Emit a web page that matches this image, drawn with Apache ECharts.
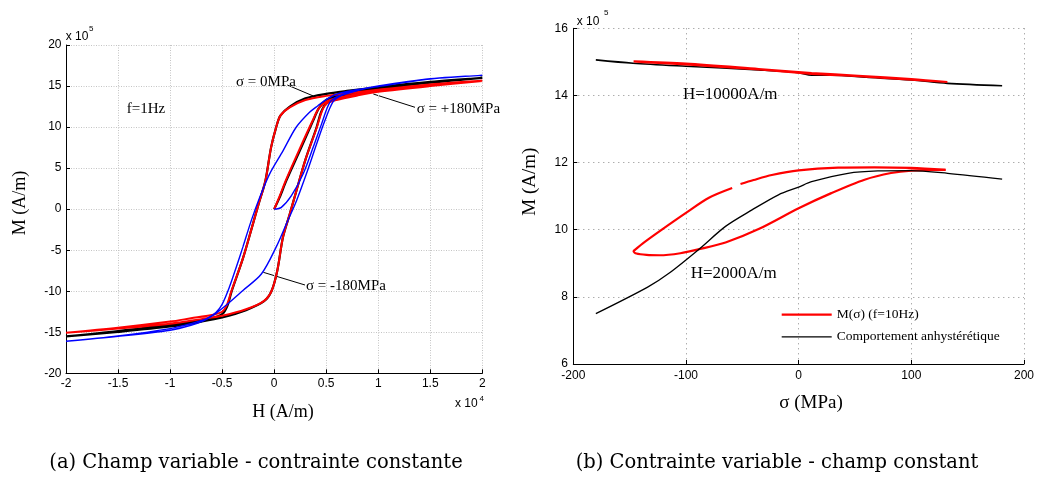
<!DOCTYPE html>
<html><head><meta charset="utf-8">
<script src="https://cdn.jsdelivr.net/npm/echarts@6/dist/echarts.min.js"></script>
<style>html,body{margin:0;padding:0;background:#fff}#c{width:1037px;height:493px}</style>
</head><body><div id="c"></div>
<script>
// ---------- Left panel: H (x1e4 A/m) vs M (x1e5 A/m) ----------
const hTicks = [-2, 2, 0.5];
const mTicks = [-20, 20, 5];
// sigma = 0 MPa (black)
const s0Init = [[0,0],[0.053,1.44],[0.117,3.47],[0.246,7.1],[0.374,10.76],[0.43,12.3],[0.5,13.3],[0.6,13.8],[0.8,14.3],[1,14.7],[1.5,15.45],[2,16.0]];
const s0Desc = [[1.5,15.5],[1,14.85],[0.7,14.4],[0.5,14.05],[0.3,13.5],[0.15,12.5],[0.06,11.4],[0.02,10.0],[-0.03,7.5],[-0.085,3.4],[-0.15,0.6],[-0.214,-2.25],[-0.3,-6],[-0.407,-9.95],[-0.45,-11.8],[-0.5,-12.8],[-0.6,-13.3],[-0.8,-13.7],[-1,-14.05],[-1.5,-14.85],[-2,-15.5]];
const s0Asc = [[-1.5,-14.95],[-1,-14.3],[-0.7,-13.7],[-0.5,-13.2],[-0.27,-12.3],[-0.1,-11.25],[-0.026,-10.0],[0.03,-7.5],[0.085,-3.4],[0.15,-0.6],[0.214,2.25],[0.3,6.0],[0.407,9.95],[0.45,11.8],[0.5,12.9],[0.6,13.6],[0.8,14.2],[1,14.65],[1.5,15.4],[2,16.0]];
// sigma = +180 MPa (red)
const sPInit = [[0,0],[0.05,1.5],[0.115,3.6],[0.24,7.2],[0.37,10.8],[0.43,12.3],[0.5,13.1],[0.6,13.55],[0.8,14.0],[1,14.4],[1.5,15.1],[2,15.65]];
const sPDesc = [[1.5,15.2],[1,14.55],[0.7,14.1],[0.5,13.8],[0.3,13.3],[0.15,12.4],[0.06,11.4],[0.02,10.0],[-0.03,7.5],[-0.085,3.4],[-0.15,0.6],[-0.214,-2.25],[-0.3,-6],[-0.41,-9.95],[-0.455,-11.7],[-0.5,-12.5],[-0.6,-12.9],[-0.8,-13.3],[-1,-13.7],[-1.5,-14.45],[-2,-15.05]];
const sPAsc = [[-1.5,-14.55],[-1,-13.95],[-0.7,-13.4],[-0.5,-13.0],[-0.27,-12.2],[-0.1,-11.2],[-0.026,-10.0],[0.03,-7.5],[0.085,-3.4],[0.15,-0.6],[0.214,2.25],[0.3,6.0],[0.41,9.95],[0.455,11.8],[0.5,12.8],[0.6,13.3],[0.8,13.85],[1,14.3],[1.5,15.0],[2,15.6]];
// sigma = -180 MPa (blue)
const sMInit = [[0,0],[0.069,0.22],[0.166,1.64],[0.278,4.28],[0.374,7.5],[0.455,10.36],[0.535,13.0],[0.62,13.8],[0.8,14.5],[1,15.0],[1.5,15.9],[2,16.3]];
const sMDesc = [[1.5,15.85],[1,14.95],[0.75,14.45],[0.6,14.0],[0.5,13.35],[0.42,12.6],[0.34,11.8],[0.21,9.95],[0.085,7.1],[-0.043,4.3],[-0.14,1.4],[-0.22,-1.4],[-0.3,-4.6],[-0.365,-7.1],[-0.43,-9.5],[-0.5,-11.6],[-0.56,-12.6],[-0.65,-13.35],[-0.8,-13.95],[-1,-14.55],[-1.5,-15.45],[-2,-16.1]];
const sMAsc = [[-1.5,-15.5],[-1,-14.75],[-0.8,-14.15],[-0.68,-13.6],[-0.58,-12.9],[-0.48,-11.9],[-0.3,-9.9],[-0.123,-7.9],[0.02,-4.6],[0.117,-1.8],[0.214,1.0],[0.31,4.3],[0.407,7.9],[0.487,10.76],[0.567,13.1],[0.65,13.85],[0.8,14.45],[1,15.0],[1.5,15.9],[2,16.3]];

// ---------- Right panel: sigma (MPa) vs M (x1e5 A/m) ----------
const sigTicks = [-200, 200, 100];
const m2Ticks = [6, 16, 2];
const h10kAnhyst = [[-180,15.06],[-147,14.96],[-100,14.87],[-35.5,14.76],[0,14.68],[11.5,14.6],[30,14.6],[60,14.54],[100,14.46],[132,14.36],[180.6,14.29]];
const h10kLoop = [[-146.5,15.02],[-100,14.95],[-35.5,14.79],[11.5,14.67],[52.8,14.59],[100,14.49],[132,14.4],[100,14.47],[52.8,14.57],[11.5,14.64],[-35.5,14.77],[-100,14.92],[-146.5,15.0]];
const h2kAnhyst = [[-180,7.5],[-134,8.29],[-114.8,8.71],[-88.4,9.42],[-64.9,10.1],[-41.4,10.59],[-17.9,11.04],[0,11.27],[11.5,11.43],[43.8,11.68],[70.3,11.75],[99.6,11.76],[132.2,11.68],[180.6,11.51]];
const h2kLoopA = [[130.4,11.78],[99.6,11.84],[67.3,11.86],[35,11.85],[0,11.77],[-23.8,11.63],[-40,11.48],[-51.6,11.36]];
const h2kLoopB = [[-59,11.24],[-79.6,10.95],[-100,10.5],[-123.6,9.95],[-138,9.6],[-144.5,9.42],[-146.5,9.36],[-144,9.29],[-135,9.25],[-123.6,9.24],[-105,9.3],[-88.4,9.42],[-64.9,9.62],[-35.5,10.02],[0,10.64],[29,11.09],[58.5,11.49],[82,11.69],[100,11.76],[130.4,11.78]];

const nameRed = 'M(σ) (f=10Hz)';
const nameBlack = 'Comportement anhystérétique';

const SANS = 'Liberation Sans';
const SERIF = 'Liberation Serif';

function axisCommon(ticks, gridIndex, labelMargin, gridStyle) {
  return {
    type: 'value', gridIndex: gridIndex,
    min: ticks[0], max: ticks[1], interval: ticks[2],
    axisLine: { show: true, onZero: false, lineStyle: { color: '#000', width: 1 } },
    axisTick: { show: true, inside: true, length: 4, lineStyle: { color: '#000' } },
    axisLabel: { color: '#000', fontFamily: SANS, fontSize: 12, margin: labelMargin },
    splitLine: { show: true, lineStyle: gridStyle }
  };
}
const gridL = { color: '#c4c4c4', width: 1, type: [1, 1.5] };
const gridR = { color: '#8a8a8a', width: 1, type: [1, 4] };

function line(name, data, color, width, xi, z) {
  return { name: name, type: 'line', xAxisIndex: xi, yAxisIndex: xi, data: data,
    symbol: 'none', smooth: 0.3, z: z || 2, silent: true,
    lineStyle: { color: color, width: width }, itemStyle: { color: color } };
}

function txt(x, y, text, size, family, align, rot) {
  return { type: 'text', x: x, y: y, rotation: rot || 0, silent: true,
    style: { text: text, fontSize: size, fontFamily: family, fill: '#000',
      align: align || 'left', verticalAlign: 'middle' } };
}
function seg(x1, y1, x2, y2) {
  return { type: 'line', silent: true, shape: { x1: x1, y1: y1, x2: x2, y2: y2 },
    style: { stroke: '#000', lineWidth: 1 } };
}
function legendItem(name, left, cy, h) {
  return { data: [name], left: left, top: cy - 8 - 5.5 + (8 - h / 2) * 0, padding: 0, icon: 'rect',
    itemWidth: 50, itemHeight: h, selectedMode: false,
    textStyle: { fontFamily: SERIF, fontSize: 13.5, color: '#000', padding: [0, 0, 0, 0] } };
}

const chart = echarts.init(document.getElementById('c'), null, { renderer: 'canvas' });
chart.setOption({
  animation: false,
  backgroundColor: '#fff',
  grid: [
    { left: 66, top: 45, width: 416.3, height: 328.3 },
    { left: 573.3, top: 28.3, width: 454, height: 335.7 }
  ],
  xAxis: [ axisCommon(hTicks, 0, 4, gridL), axisCommon(sigTicks, 1, 6, gridR) ],
  yAxis: [ axisCommon(mTicks, 0, 4.5, gridL), axisCommon(m2Ticks, 1, 5.5, gridR) ],
  legend: [
    legendItem(nameRed, 781.7, 314.3 + 6.8, 2.2),
    legendItem(nameBlack, 781.7, 336 + 7.3, 1.3)
  ],
  series: [
    line('σ = 0MPa', s0Init.concat(s0Desc, s0Asc), '#000', 2.2, 0, 2),
    line('σ = +180MPa', sPInit.concat(sPDesc, sPAsc), '#ff0000', 2, 0, 3),
    line('σ = -180MPa', sMInit.concat(sMDesc, sMAsc), '#0000ff', 1.4, 0, 4),
    line(nameBlack, h10kAnhyst, '#000', 1.6, 1, 2),
    line(nameRed, h10kLoop, '#ff0000', 2, 1, 3),
    line(nameRed, h2kLoopA, '#ff0000', 2.2, 1, 3),
    line(nameRed, h2kLoopB, '#ff0000', 2.2, 1, 3),
    line(nameBlack, h2kAnhyst, '#000', 1.3, 1, 4)
  ],
  graphic: [
    // left panel texts
    txt(65.7, 36.2, 'x 10', 12, SANS), txt(89, 28.8, '5', 8, SANS),
    txt(455, 404, 'x 10', 12, SANS), txt(479.5, 398.3, '4', 8, SANS),
    txt(283, 412.5, 'H (A/m)', 18, SERIF, 'center'),
    txt(20, 203, 'M (A/m)', 18, SERIF, 'center', Math.PI / 2),
    txt(126.7, 109, 'f=1Hz', 15, SERIF),
    txt(236, 82.3, 'σ = 0MPa', 15, SERIF),
    txt(416.7, 109, 'σ = +180MPa', 15, SERIF),
    txt(306, 285.7, 'σ = -180MPa', 15, SERIF),
    seg(287.3, 85, 313.3, 96),
    seg(373.3, 94, 415, 107.3),
    seg(263.3, 272.3, 305, 285),
    // right panel texts
    txt(576.7, 21.7, 'x 10', 12, SANS), txt(604, 12.5, '5', 8, SANS),
    txt(811, 403.3, 'σ (MPa)', 19, SERIF, 'center'),
    txt(530, 181.7, 'M (A/m)', 19, SERIF, 'center', Math.PI / 2),
    txt(683, 94.3, 'H=10000A/m', 17, SERIF),
    txt(690.7, 273.3, 'H=2000A/m', 17, SERIF),
    // captions
    txt(256, 463, '(a) Champ variable - contrainte constante', 19.5, 'DejaVu Serif', 'center'),
    txt(777, 463, '(b) Contrainte variable - champ constant', 19.5, 'DejaVu Serif', 'center')
  ]
});
</script></body></html>
